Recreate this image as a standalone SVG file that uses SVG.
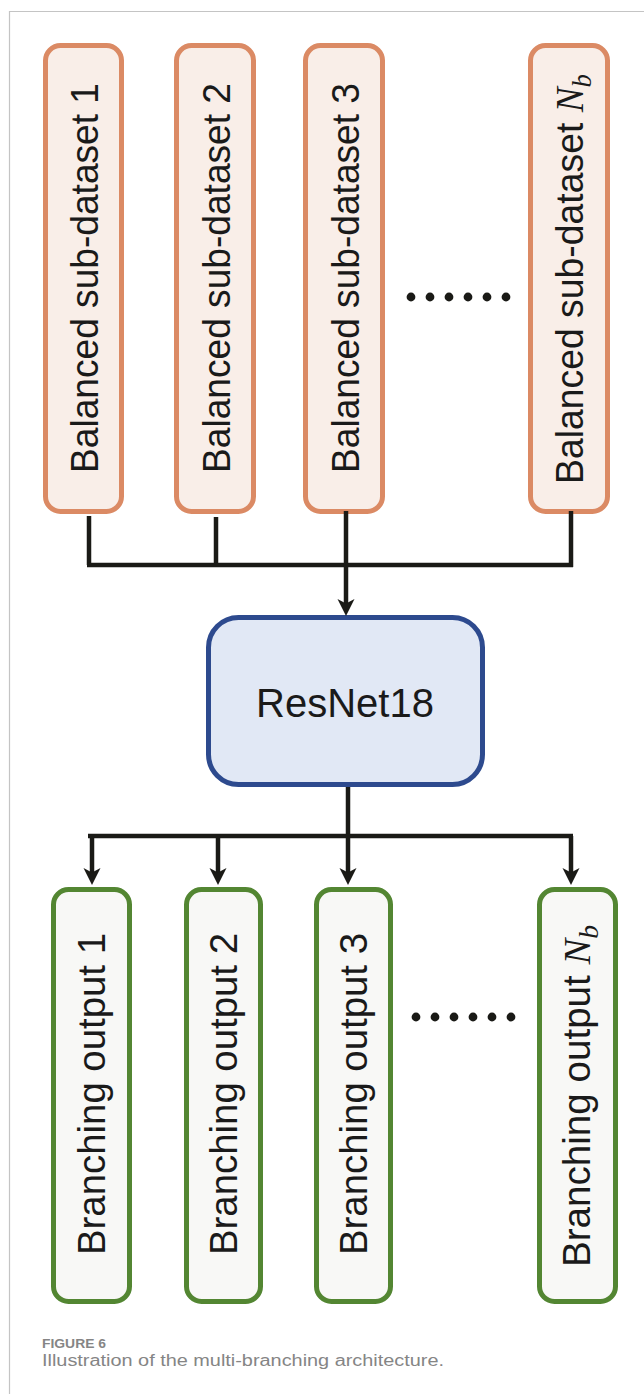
<svg xmlns="http://www.w3.org/2000/svg" width="644" height="1394" viewBox="0 0 644 1394">
  <style>
    .frame { fill: none; stroke: #c4c4c4; stroke-width: 1.2; }
    .src rect { fill: #f9eee8; stroke: #db8a64; stroke-width: 5; }
    .net rect { fill: #e1e8f5; stroke: #2d4a8e; stroke-width: 5; }
    .out rect { fill: #f8f8f6; stroke: #538632; stroke-width: 5; }
    .lbl { font-family: "Liberation Sans", Arial, sans-serif; fill: #1a1a1a; text-anchor: middle; }
    .math { font-family: "Liberation Serif", "Times New Roman", serif; font-style: italic; }
    .wire { fill: none; stroke: #1a1a16; stroke-width: 4.5; }
    .dots circle { fill: #1a1a16; }
    .cap { font-family: "Liberation Sans", Arial, sans-serif; fill: #858585; }
  </style>
  <defs>
    <marker id="head" markerUnits="userSpaceOnUse" viewBox="-19 -10 20 20" markerWidth="20" markerHeight="20" refX="-10" refY="0" orient="auto">
      <path d="M0,0 L-17,-8.5 L-12.5,0 L-17,8.5 Z" fill="#1a1a16"/>
    </marker>
  </defs>

  <!-- page frame -->
  <path class="frame" d="M9.5,1394 V11.5 H644"/>

  <!-- balanced sub-datasets -->
  <g id="subset-1" class="src">
    <rect x="45.5" y="45.5" width="76" height="466" rx="15"/>
    <text class="lbl" font-size="39" transform="translate(98,278) rotate(-90)" textLength="390" lengthAdjust="spacingAndGlyphs">Balanced sub-dataset 1</text>
  </g>
  <g id="subset-2" class="src">
    <rect x="176.5" y="45.5" width="77" height="466" rx="15"/>
    <text class="lbl" font-size="39" transform="translate(230,278) rotate(-90)" textLength="390" lengthAdjust="spacingAndGlyphs">Balanced sub-dataset 2</text>
  </g>
  <g id="subset-3" class="src">
    <rect x="305.5" y="45.5" width="77" height="466" rx="15"/>
    <text class="lbl" font-size="39" transform="translate(359,278) rotate(-90)" textLength="390" lengthAdjust="spacingAndGlyphs">Balanced sub-dataset 3</text>
  </g>
  <g id="subset-n" class="src">
    <rect x="530.5" y="45.5" width="77" height="466" rx="15"/>
    <text class="lbl" font-size="39" transform="translate(583,279) rotate(-90)" textLength="410" lengthAdjust="spacingAndGlyphs">Balanced sub-dataset <tspan class="math">N</tspan><tspan class="math" font-size="28" dy="8">b</tspan></text>
  </g>
  <g id="dots-top" class="dots">
    <circle cx="411" cy="297" r="4.4"/>
    <circle cx="430" cy="297" r="4.4"/>
    <circle cx="449" cy="297" r="4.4"/>
    <circle cx="468" cy="297" r="4.4"/>
    <circle cx="487" cy="297" r="4.4"/>
    <circle cx="506" cy="297" r="4.4"/>
  </g>

  <!-- shared backbone -->
  <g id="resnet18" class="net">
    <rect x="208.5" y="617.5" width="274" height="167" rx="30"/>
    <text class="lbl" font-size="40" x="345" y="717">ResNet18</text>
  </g>

  <!-- branching outputs -->
  <g id="output-1" class="out">
    <rect x="53.5" y="889.5" width="76" height="412" rx="15"/>
    <text class="lbl" font-size="38" transform="translate(105,1094) rotate(-90)" textLength="322" lengthAdjust="spacingAndGlyphs">Branching output 1</text>
  </g>
  <g id="output-2" class="out">
    <rect x="186.5" y="889.5" width="74" height="412" rx="15"/>
    <text class="lbl" font-size="38" transform="translate(237,1094) rotate(-90)" textLength="322" lengthAdjust="spacingAndGlyphs">Branching output 2</text>
  </g>
  <g id="output-3" class="out">
    <rect x="316.5" y="889.5" width="74" height="412" rx="15"/>
    <text class="lbl" font-size="38" transform="translate(367,1094) rotate(-90)" textLength="322" lengthAdjust="spacingAndGlyphs">Branching output 3</text>
  </g>
  <g id="output-n" class="out">
    <rect x="539.5" y="889.5" width="76" height="412" rx="15"/>
    <text class="lbl" font-size="38" transform="translate(590,1096) rotate(-90)" textLength="342" lengthAdjust="spacingAndGlyphs">Branching output <tspan class="math">N</tspan><tspan class="math" font-size="27" dy="8">b</tspan></text>
  </g>
  <g id="dots-bottom" class="dots">
    <circle cx="416" cy="1017" r="4.4"/>
    <circle cx="435" cy="1017" r="4.4"/>
    <circle cx="454" cy="1017" r="4.4"/>
    <circle cx="473" cy="1017" r="4.4"/>
    <circle cx="492" cy="1017" r="4.4"/>
    <circle cx="511" cy="1017" r="4.4"/>
  </g>

  <!-- connectors -->
  <g id="connectors" class="wire">
    <path d="M89,516 V565"/>
    <path d="M216,517 V565"/>
    <path d="M571,511 V567"/>
    <path d="M87,565 H573"/>
    <path d="M346,511 V606" marker-end="url(#head)"/>
    <path d="M348,787 V836"/>
    <path d="M88,836 H573"/>
    <path d="M92,836 V875" marker-end="url(#head)"/>
    <path d="M218,836 V875" marker-end="url(#head)"/>
    <path d="M348,836 V875" marker-end="url(#head)"/>
    <path d="M571,836 V875" marker-end="url(#head)"/>
  </g>

  <!-- caption -->
  <text class="cap" x="42" y="1348" font-size="12.5" font-weight="bold" textLength="64" lengthAdjust="spacingAndGlyphs">FIGURE 6</text>
  <text class="cap" x="42" y="1366" font-size="16" textLength="402" lengthAdjust="spacingAndGlyphs">Illustration of the multi-branching architecture.</text>
</svg>
